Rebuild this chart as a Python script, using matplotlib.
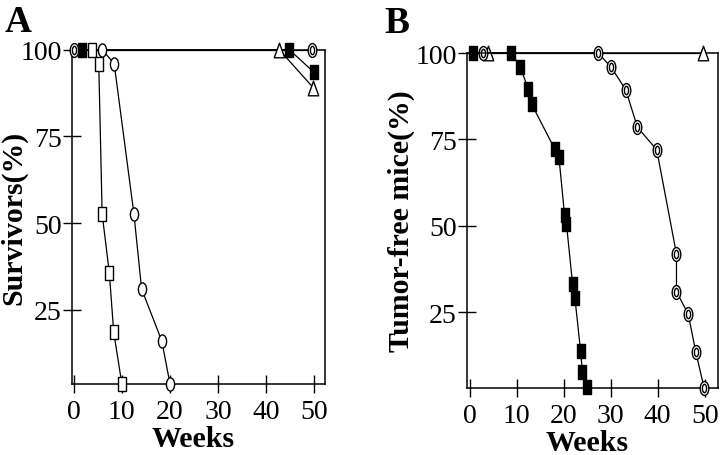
import numpy as np
import matplotlib
matplotlib.use("Agg")
import matplotlib.pyplot as plt
from matplotlib.path import Path
from matplotlib.transforms import Affine2D

plt.rcParams['font.family'] = ['Liberation Serif', 'DejaVu Serif']

# panel A: survival
a_osq_w = [3.8, 5.2, 5.9, 7.4, 8.3, 10.0]
a_osq_v = [100, 96, 52.7, 35.6, 18.6, 3.6]
a_oci_w = [5.9, 8.4, 12.5, 14.1, 18.3, 20.0]
a_oci_v = [100, 96, 52.7, 31, 16, 3.6]
a_fsq_w = [1.8, 44.8, 49.9]
a_fsq_v = [100, 100, 93.5]
a_tri_w = [42.7, 49.8]
a_tri_v = [100, 89]
a_hci_w = [0, 49.6]
a_hci_v = [100, 100]

# panel B: tumor-free mice
b_fsq_w = [0.8, 8.9, 10.7, 12.5, 13.2, 18.1, 19.0, 20.2, 20.6, 21.9, 22.4, 23.6, 24.0, 24.9]
b_fsq_v = [100, 100, 96.1, 89.6, 85.2, 72.2, 69.8, 53.1, 50.5, 33.1, 29.0, 13.8, 7.5, 3.2]
b_hci_w = [2.9, 27.3, 30.0, 33.2, 35.7, 39.8, 44.0, 44.0, 46.5, 48.1, 49.9]
b_hci_v = [100, 100, 96.1, 89.4, 78.5, 72.0, 41.8, 30.9, 24.4, 13.5, 2.9]
b_tri_w = [3.9, 49.7]
b_tri_v = [100, 100]

xticks = [0, 10, 20, 30, 40, 50]
yticks = [25, 50, 75, 100]

# tall marker shapes like the scanned figure
ellipse = Path.unit_circle().transformed(Affine2D().scale(0.62, 1.0))
inner = Path.unit_circle().transformed(Affine2D().scale(0.3, 0.6))
double_ell = Path.make_compound_path(ellipse, inner)
rect = Path([(-0.55, -1), (0.55, -1), (0.55, 1), (-0.55, 1), (-0.55, -1)],
            [Path.MOVETO, Path.LINETO, Path.LINETO, Path.LINETO, Path.CLOSEPOLY])
tri = Path([(0, 1), (0.72, -1), (-0.72, -1), (0, 1)],
           [Path.MOVETO, Path.LINETO, Path.LINETO, Path.CLOSEPOLY])

fig = plt.figure(figsize=(7.2, 4.56), dpi=100)
axA = fig.add_axes([0.1004, 0.1557, 0.351, 0.733])
axB = fig.add_axes([0.649, 0.1469, 0.348, 0.7346])


def series(ax, w, v, m, fc, ms=10):
    ax.plot(w, v, color='black', lw=0.9, marker=m, ms=ms, mfc=fc,
            mec='black', mew=1.0, clip_on=False, zorder=3)


series(axA, a_hci_w, a_hci_v, double_ell, 'white')
series(axA, a_fsq_w, a_fsq_v, rect, 'black')
series(axA, a_tri_w, a_tri_v, tri, 'white', 10.5)
series(axA, a_osq_w, a_osq_v, rect, 'white')
series(axA, a_oci_w, a_oci_v, ellipse, 'white', 9.5)

series(axB, b_tri_w, b_tri_v, tri, 'white', 10.5)
series(axB, b_hci_w, b_hci_v, double_ell, 'white')
series(axB, b_fsq_w, b_fsq_v, rect, 'black', 10.5)

for ax, xl, yl, ylab, lx in [(axA, (-0.3, 52.2), (3.6, 100), 'Survivors(%)', -0.178),
                              (axB, (-0.5, 52.8), (3.0, 100), 'Tumor-free mice(%)', -0.209)]:
    ax.set_xlim(*xl)
    ax.set_ylim(*yl)
    ax.set_xticks(xticks)
    ax.set_yticks(yticks)
    ax.tick_params(direction='inout', length=13, width=1.0, labelsize=20, pad=1)
    ax.tick_params(axis='x', pad=4)
    for s in ax.spines.values():
        s.set_linewidth(1.1)
    ax.set_xlabel('Weeks', fontsize=21.5, fontweight='bold')
    ax.xaxis.set_label_coords(0.48, -0.122)
    ax.set_ylabel(ylab, fontsize=21.5, fontweight='bold')
    ax.yaxis.set_label_coords(lx, 0.5)

fig.text(5 / 720, 1 - 22 / 456, 'A', fontsize=27, fontweight='bold', va='center', ha='left')
fig.text(384 / 720, 1 - 24 / 456, 'B', fontsize=27, fontweight='bold', va='center', ha='left')

fig.savefig('out.png', dpi=100)
